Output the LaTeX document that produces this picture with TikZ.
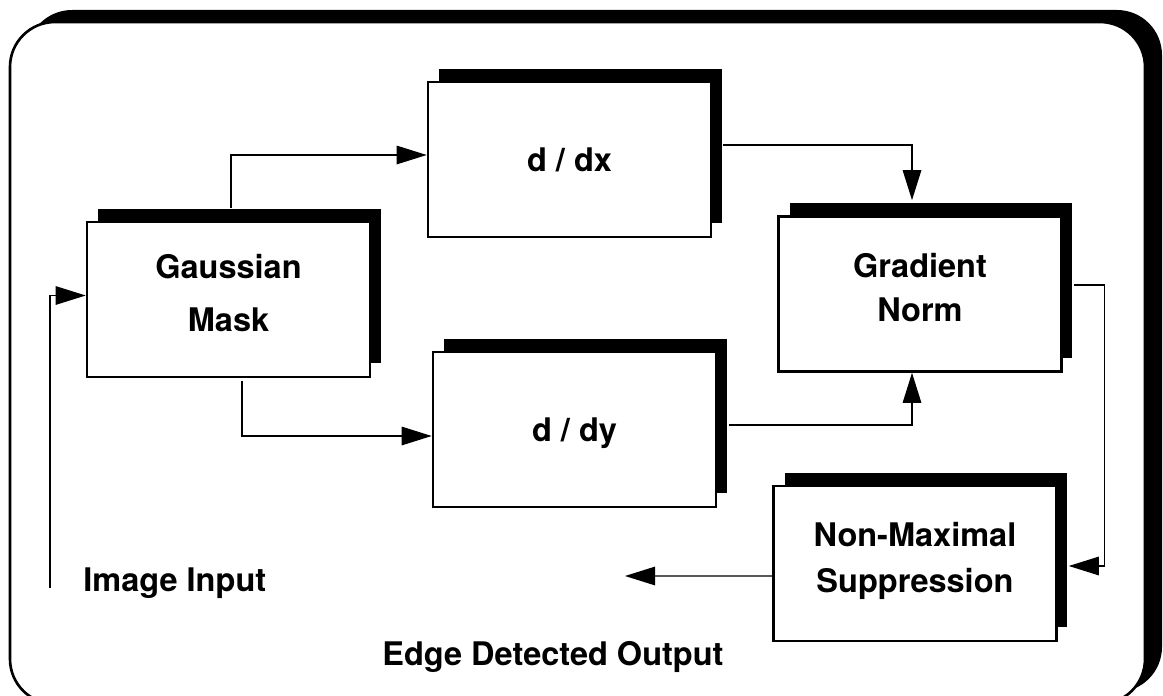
\documentclass[tikz,border=0pt]{standalone}
\usepackage{fontspec}
\setmainfont{TeX Gyre Heros}
\usetikzlibrary{arrows.meta}
\usetikzlibrary{shadows}

\tikzset{
    blockbox/.style={draw, fill=white, line width=1.5pt, minimum width=5.66cm, minimum height=3.1cm, inner sep=0pt, text depth=0pt, font=\bfseries\fontsize{18.5}{25}\selectfont, drop shadow={shadow xshift=0.22cm, shadow yshift=0.27cm, fill=black, opacity=1}},
    twoline/.style={align=center, text depth=0.26cm},
    conn/.style={line width=0.7pt, -{Triangle[length=0.6cm,width=0.37cm]}},
    lbl/.style={font=\bfseries\fontsize{18.5}{25}\selectfont, inner sep=0pt},
}

\begin{document}
\begin{tikzpicture}[x=0.02cm, y=-0.02cm]
            \useasboundingbox (0,0) rectangle (1163,696);
            \fill[black, rounded corners=0.9cm] (27,10) rectangle (1162,692);
            \draw[fill=white, line width=1.5pt, rounded corners=0.9cm] (10,22) rectangle (1145,704);

            \node[blockbox, twoline] (gauss) at (228.5,299.5) {Gaussian\\[5.5pt]Mask};
            \node[blockbox] (ddx) at (569.5,159.5) {d / dx};
            \node[blockbox] (ddy) at (574.5,429.5) {d / dy};
            \node[blockbox, twoline] (grad) at (920,294) {Gradient\\Norm};
            \node[blockbox, twoline] (nms) at (915,563.5) {Non-Maximal\\[1.2pt]Suppression};

            \node[lbl, anchor=base west] (imgin) at (83,591) {Image Input};
            \node[lbl, anchor=base west] (edgeout) at (382,665) {Edge Detected Output};
            \coordinate (instart) at (50,588);
            \coordinate (outend) at (625,576);

            \draw[conn] (instart) |- ([yshift=0.08cm]gauss.west);
            \draw[conn] ([xshift=0.05cm,yshift=0.26cm]gauss.north) |- ([yshift=0.09cm]ddx.west);
            \draw[conn] ([xshift=0.27cm,yshift=-0.05cm]gauss.south) |- ([yshift=-0.13cm]ddy.west);
            \draw[conn] ([xshift=0.21cm,yshift=0.29cm]ddx.east) -| ([xshift=-0.16cm,yshift=0.3cm]grad.north);
            \draw[conn] ([xshift=0.23cm,yshift=0.09cm]ddy.east) -| ([xshift=-0.16cm]grad.south);
            \draw[conn] ([xshift=0.22cm,yshift=0.18cm]grad.east) -- ++(31,0) |- ([xshift=0.22cm,yshift=-0.05cm]nms.east);
            \draw[conn] ([yshift=-0.25cm]nms.west) -- (outend);
        \end{tikzpicture}
\end{document}
